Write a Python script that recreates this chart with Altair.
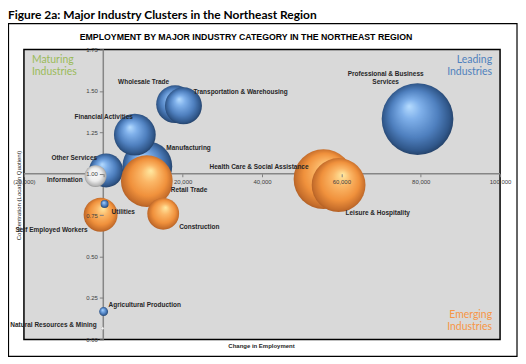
import altair as alt
import pandas as pd

# ---------------- data ----------------
names = [
    "Wholesale Trade", "Transportation & Warehousing", "Manufacturing",
    "Financial Activities", "Professional & Business Services", "Other Services",
    "Health Care & Social Assistance", "Leisure & Hospitality", "Retail Trade",
    "Construction", "Self Employed Workers", "Information", "Utilities",
    "Agricultural Production", "Natural Resources & Mining",
]
change = [18100, 20200, 11100, 7950, 79200, 700,
          55500, 59300, 10970, 15100, -680, -1950, 330, 80, -180]
lq = [1.42, 1.41, 1.045, 1.236, 1.33, 1.02,
      0.968, 0.932, 0.956, 0.758, 0.752, 0.986, 0.818, 0.168, 0.066]
size_k = [72, 69, 125, 88, 259, 58, 180, 146, 135, 51, 58, 24, 3.2, 4, 0.45]
group = ["blue", "blue", "blue", "blue", "blue", "blue",
         "orange", "orange", "orange", "orange", "orange", "white", "blue", "blue", "white"]

x_ticks = [-20000, 0, 20000, 40000, 60000, 80000, 100000]
y_ticks = [0, 0.25, 0.5, 0.75, 1.0, 1.25, 1.5, 1.75]
X_DOM = [-20000, 100000]
Y_DOM = [0, 1.75]

heading = "Figure 2a: Major Industry Clusters in the Northeast Region"
chart_title = "EMPLOYMENT BY MAJOR INDUSTRY CATEGORY IN THE NORTHEAST REGION"
x_title = "Change in Employment"
y_title = "Concentration (Location Quotient)"

# ---------------- layout / style ----------------
W, H = 478, 291
x_axis_off = -W * (0 - X_DOM[0]) / (X_DOM[1] - X_DOM[0])     # y-axis crosses at x = 0
y_axis_off = -H * (1.0 - Y_DOM[0]) / (Y_DOM[1] - Y_DOM[0])   # x-axis crosses at y = 1

# label placement: text, align, dx, dy (pixels from bubble centre)
label_layout = {
    "Professional & Business Services": ("Professional & Business\nServices", "center", -32, -45),
    "Wholesale Trade": ("Wholesale Trade", "right", -6, -22),
    "Transportation & Warehousing": ("Transportation & Warehousing", "left", 10, -14),
    "Financial Activities": ("Financial Activities", "right", -2, -18),
    "Manufacturing": ("Manufacturing", "left", 19, -18),
    "Retail Trade": ("Retail Trade", "left", 24, 9),
    "Other Services": ("Other Services", "right", -9, -12),
    "Information": ("Information", "right", -13, 4),
    "Self Employed Workers": ("Self Employed Workers", "right", -13, 15),
    "Utilities": ("Utilities", "left", 7, 8),
    "Construction": ("Construction", "left", 16, 13),
    "Health Care & Social Assistance": ("Health Care & Social Assistance", "right", -15, -12),
    "Leisure & Hospitality": ("Leisure & Hospitality", "left", 7, 28),
    "Agricultural Production": ("Agricultural Production", "left", 5, -7),
    "Natural Resources & Mining": ("Natural Resources & Mining", "right", -6, -3),
}

BLUE = {"gradient": "radial", "x1": 0.38, "y1": 0.32, "r1": 0, "x2": 0.5, "y2": 0.5, "r2": 0.55,
        "stops": [{"offset": 0, "color": "#b6dcff"}, {"offset": 0.25, "color": "#7fb0ea"},
                  {"offset": 0.6, "color": "#4f80bf"}, {"offset": 0.85, "color": "#30578a"},
                  {"offset": 1, "color": "#1c3352"}]}
ORANGE = {"gradient": "radial", "x1": 0.58, "y1": 0.3, "r1": 0, "x2": 0.5, "y2": 0.5, "r2": 0.55,
          "stops": [{"offset": 0, "color": "#ffeaa2"}, {"offset": 0.3, "color": "#fbb767"},
                    {"offset": 0.65, "color": "#f0913c"}, {"offset": 0.88, "color": "#c56d2b"},
                    {"offset": 1, "color": "#9a5020"}]}
WHITE = {"gradient": "radial", "x1": 0.45, "y1": 0.35, "r1": 0, "x2": 0.5, "y2": 0.5, "r2": 0.55,
         "stops": [{"offset": 0, "color": "#ffffff"}, {"offset": 0.55, "color": "#ececec"},
                   {"offset": 0.85, "color": "#b5b5b5"}, {"offset": 1, "color": "#7a7a7a"}]}

df = pd.DataFrame({"name": names, "chg": change, "lq": lq, "emp": size_k, "group": group,
                   "draw": list(range(len(names)))})
df["label"] = [label_layout[n][0] for n in names]

xscale = alt.Scale(domain=X_DOM, nice=False, zero=False)
yscale = alt.Scale(domain=Y_DOM, nice=False, zero=False)

x_axis = alt.Axis(
    values=x_ticks,
    labelExpr="datum.value == 0 ? '' : (datum.value < 0 ? '(' + format(-datum.value, ',') + ')' : format(datum.value, ','))",
    offset=y_axis_off, domain=False, grid=False, ticks=True, tickSize=3, tickColor="#7f7f7f",
    labelFontSize=6, labelColor="#404040", labelFont="Liberation Sans", labelPadding=2,
    labelFlush=False, labelOverlap=False, labelBound=False, zindex=1,
    title=x_title, titleFontSize=6, titleFont="Liberation Sans", titleFontWeight="bold",
    titleColor="#262626", titleX=W / 2 - 1, titleY=(297) - (H + y_axis_off),
    titleBaseline="middle", titleAlign="center", titleAnchor="middle",
)
y_axis = alt.Axis(
    values=y_ticks, format=".2f",
    offset=x_axis_off, domain=False, grid=False, ticks=True, tickSize=4, tickColor="#7f7f7f",
    labelFontSize=6, labelColor="#404040", labelFont="Liberation Sans", labelPadding=2,
    labelFlush=False, labelOverlap=False, labelBound=False, zindex=1,
    title=y_title, titleFontSize=6, titleFont="Liberation Sans", titleFontWeight="normal",
    titleColor="#262626", titleX=-5 + x_axis_off, titleY=146, titleAngle=-90,
    titleBaseline="middle", titleAlign="center",
)
X = alt.X("chg:Q", scale=xscale, axis=x_axis)
Y = alt.Y("lq:Q", scale=yscale, axis=y_axis)

base = alt.Chart(df)

rule_h = alt.Chart(pd.DataFrame({"lq": [1.0]})).mark_rule(color="#868686", strokeWidth=1.5).encode(y=Y)
rule_v = alt.Chart(pd.DataFrame({"chg": [0]})).mark_rule(color="#868686", strokeWidth=1.5).encode(x=X)

bubbles = base.mark_circle(opacity=1, strokeWidth=0).encode(
    x=X, y=Y,
    size=alt.Size("emp:Q", scale=alt.Scale(type="linear", domain=[0, 260], range=[0, 5200]), legend=None),
    fill=alt.FillValue(value=BLUE, condition=[
        {"test": "datum.group === 'orange'", "value": ORANGE},
        {"test": "datum.group === 'white'", "value": WHITE},
    ]),
    order=alt.Order("draw:Q"),
)

label_layers = []
for n in names:
    _, align, dx, dy = label_layout[n]
    label_layers.append(
        base.transform_filter(alt.datum.name == n).mark_text(
            align=align, baseline="middle", dx=dx, dy=dy, fontSize=6.5, fontWeight="bold",
            font="Liberation Sans", color="#262626", lineBreak="\n", lineHeight=8,
        ).encode(x=X, y=Y, text="label:N")
    )

quad = []
for txt, cx, cy, align, dx, dy, col in [
    ("Maturing\nIndustries", X_DOM[0], Y_DOM[1], "left", 8, 6, "#9BBB59"),
    ("Leading\nIndustries", X_DOM[1], Y_DOM[1], "right", -8, 6, "#4F81BD"),
    ("Emerging\nIndustries", X_DOM[1], Y_DOM[0], "right", -8, -29, "#F79646"),
]:
    quad.append(
        alt.Chart(pd.DataFrame({"chg": [cx], "lq": [cy], "t": [txt]})).mark_text(
            align=align, baseline="top", dx=dx, dy=dy, fontSize=10.5, font="Lato",
            color=col, lineBreak="\n", lineHeight=11.5,
        ).encode(x=X, y=Y, text="t:N")
    )

frame = alt.Chart(pd.DataFrame({"a": [0]})).mark_rect(
    fillOpacity=0, stroke="black", strokeWidth=1.2
).encode(x=alt.value(-15.5), x2=alt.value(495), y=alt.value(-26), y2=alt.value(308))

head = alt.Chart(pd.DataFrame({"t": [heading]})).mark_text(
    align="left", baseline="middle", fontSize=12, fontWeight="bold", font="Lato", color="black"
).encode(x=alt.value(-16), y=alt.value(-34.5), text="t:N")

ctitle = alt.Chart(pd.DataFrame({"t": [chart_title]})).mark_text(
    align="center", baseline="middle", fontSize=8.8, fontWeight="bold",
    font="Liberation Sans", color="black"
).encode(x=alt.value(223), y=alt.value(-13), text="t:N")

chart = alt.layer(rule_h, rule_v, bubbles, *label_layers, *quad, frame, head, ctitle).properties(
    width=W, height=H,
    padding={"left": 16, "top": 41, "right": 18, "bottom": 18},
    autosize=alt.AutoSizeParams(type="none"),
    background="white",
).configure_view(fill="#D9D9D9", stroke="black", strokeWidth=1.5)

chart.save("out.html", embed_options={"renderer": "svg", "actions": False})
